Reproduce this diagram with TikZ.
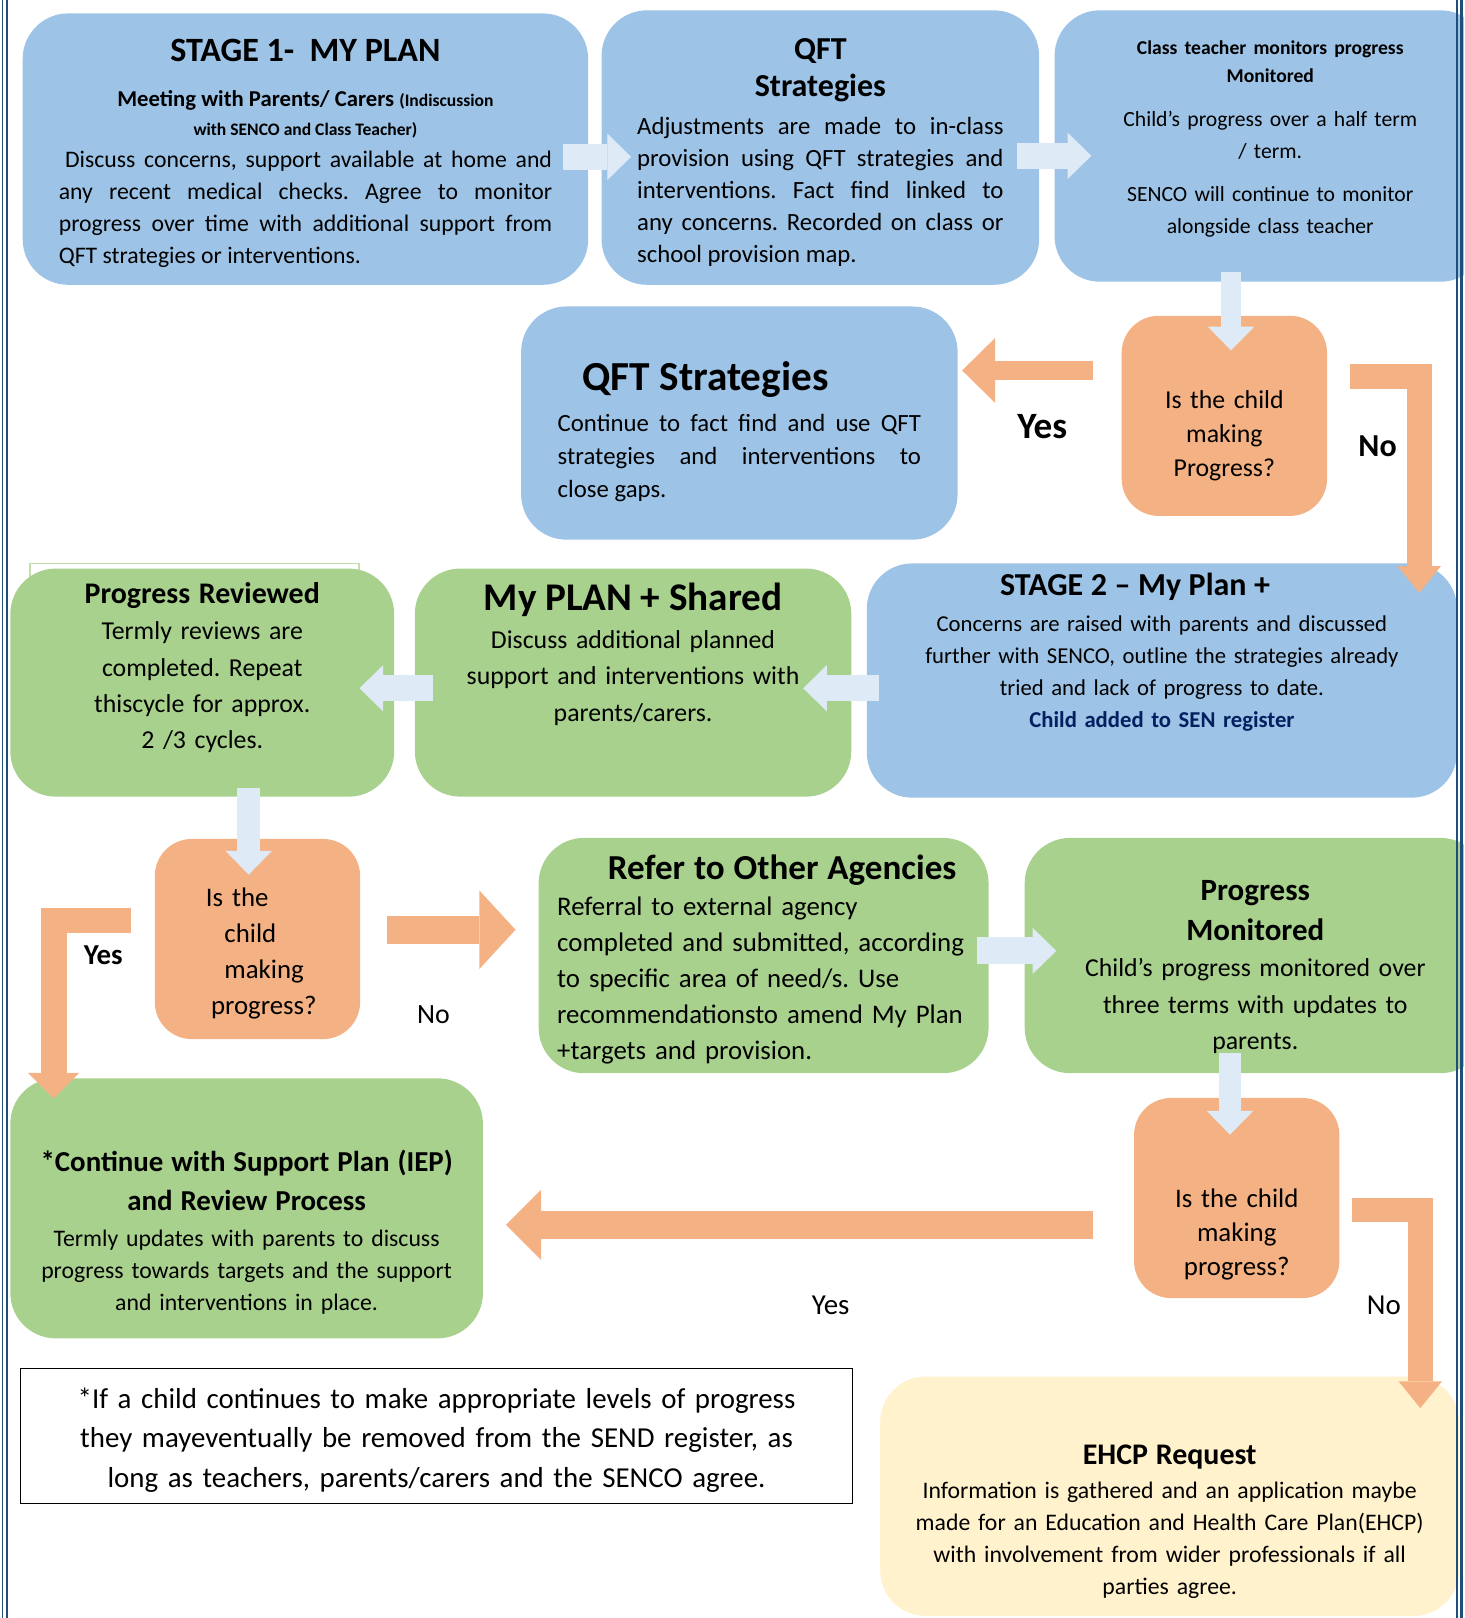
\documentclass[tikz,border=0pt]{standalone}
\usepackage{fontspec}
\setmainfont{Carlito}
\usetikzlibrary{arrows.meta,calc}
\setlength{\parindent}{0pt}
\frenchspacing

\definecolor{bleu}{HTML}{9DC3E6}
\definecolor{vert}{HTML}{A9D18E}
\definecolor{saumon}{HTML}{F4B183}
\definecolor{creme}{HTML}{FFF2CC}
\definecolor{bleuclair}{HTML}{DEEBF7}
\definecolor{marine}{HTML}{002060}
\definecolor{bordure}{HTML}{1F4E79}

% titre centre en gras
\newcommand{\titre}[3]{{\centering\fontsize{#1}{#2}\selectfont\bfseries #3\par}}

\begin{document}
\begin{tikzpicture}[x=0.5pt,y=-0.5pt]
        % Styles des cadres et des flèches
        \tikzstyle{boite} = [rounded corners=22pt, inner sep=0pt, align=center]
        \tikzstyle{bleue} = [boite, fill=bleu]
        \tikzstyle{verte} = [boite, fill=vert]
        \tikzstyle{question} = [rounded corners=18pt, fill=saumon, inner sep=0pt, minimum width=99.5pt, minimum height=97pt, text width=90pt, align=center]
        \tikzstyle{fleche} = [bleuclair, line width=12.5pt, -{Triangle[width=22.5pt,length=11.5pt,line width=0pt]}]
        \tikzstyle{flecheo} = [saumon, line width=13.5pt, -{Triangle[width=34pt,length=17pt,line width=0pt]}]
        \tikzstyle{coude} = [saumon, line width=12pt, line join=miter, -{Triangle[width=21pt,length=13pt,line width=0pt]}]

        \useasboundingbox (0,0) rectangle (1419,1568);

        % Ligne 1
        \node[bleue, minimum width=274pt, minimum height=131.5pt, text width=239pt, align=justify, font=\fontsize{11.5}{15.5}\selectfont] (etape1) at (296,144.5) {
            \titre{16.5}{20}{STAGE 1-\ \ MY PLAN}\vspace{11pt}
            {\centering\fontsize{11}{14}\selectfont\bfseries Meeting with Parents/ Carers {\fontsize{8.5}{11}\selectfont (Indiscussion\\ with SENCO and Class Teacher)}\par}
            \hspace*{3pt}Discuss concerns, support available at home and\linebreak any recent medical checks. Agree to monitor\linebreak progress over time with additional support from\linebreak QFT strategies or interventions.\par\kern-4pt};
        \node[bleue, minimum width=212pt, minimum height=133pt, text width=177.5pt, align=justify, font=\fontsize{12}{15.5}\selectfont] (qft) at (795,143) {
            \titre{15.5}{18}{QFT\\ Strategies}\vspace{3pt}
            Adjustments are made to in-class\linebreak provision using QFT strategies and\linebreak interventions. Fact find linked to\linebreak any concerns. Recorded on class or\linebreak school provision map.\par\kern-5pt};
        \node[bleue, minimum width=209pt, minimum height=131.5pt, text width=180pt, font=\fontsize{10.5}{15.5}\selectfont] (suivi) at (1231,141.5) {
            {\bfseries\fontsize{9.5}{13.5}\selectfont Class teacher monitors progress\\ Monitored\par}\vspace{6pt}
            Child’s progress over a half term\\ / term.\par\vspace{5pt}
            SENCO will continue to monitor\\ alongside class teacher\par\kern7pt};

        % Ligne 2
        \node[question, font=\fontsize{12.5}{16.5}\selectfont] (q1) at (1186.5,403) {Is the child\\ making\\ Progress?\par\kern-19pt};
        \node[bleue, minimum width=211.5pt, minimum height=113pt, text width=176pt, align=justify, font=\fontsize{12}{16}\selectfont] (qftbis) at (716.5,410) {
            {\raggedright\hspace*{12pt}\fontsize{20}{24}\selectfont\bfseries QFT Strategies\par}\vspace{4pt}
            Continue to fact find and use QFT\linebreak strategies and interventions to\linebreak close gaps.\par\kern-8pt};

        % Ligne 3
        \node[bleue, minimum width=286pt, minimum height=113.5pt, text width=260pt, font=\fontsize{11}{15.5}\selectfont] (etape2) at (1126,659.5) {
            \titre{15.5}{18}{STAGE 2 – My Plan +\hspace*{26pt}}\vspace{2pt}
            Concerns are raised with parents and discussed\\ further with SENCO, outline the strategies already\\ tried and lack of progress to date.\\
            {\bfseries\color{marine}Child added to SEN register}\par\kern27.5pt};
        \node[verte, minimum width=211.5pt, minimum height=110.5pt, text width=200pt, font=\fontsize{12.5}{17.5}\selectfont] (monplan) at (613.5,661.5) {
            \titre{19}{22}{My PLAN + Shared}\vspace{1pt}
            Discuss additional planned\\ support and interventions with\\ parents/carers.\par\kern27.5pt};
        \draw[vert!70, line width=0.6pt] (29,600) -- (29,546) -- (348,546) -- (348,600);
        \node[verte, minimum width=186pt, minimum height=110.5pt, text width=170pt, font=\fontsize{12.5}{17.5}\selectfont] (revue) at (196,661.5) {
            \titre{14.5}{17.5}{Progress Reviewed}
            Termly reviews are\\ completed. Repeat\\ thiscycle for approx.\\ 2 /3 cycles.\par\kern14.5pt};

        % Ligne 4
        \node[question, text width=60pt, align=left, font=\fontsize{13}{17.5}\selectfont] (q2) at (249.5,910) {\hspace*{5pt}Is the\\ \hspace*{14pt}child\\ \hspace*{14pt}making\\ \hspace*{7.5pt}progress?\par\kern-14pt};
        \node[verte, minimum width=218pt, minimum height=114pt, text width=200pt, align=left, font=\fontsize{13}{17.5}\selectfont] (agences) at (740,926) {
            {\centering\hspace*{18pt}\fontsize{17}{20}\selectfont\bfseries Refer to Other Agencies\par}
            Referral to external agency\\ completed and submitted, according\\ to specific area of need/s. Use\\ recommendationsto amend My Plan\\ +targets and provision.\par\kern-4pt};
        \node[verte, minimum width=223.5pt, minimum height=114pt, text width=200pt, font=\fontsize{12.5}{17.5}\selectfont] (progres) at (1216.5,926) {
            \titre{15}{19.5}{Progress\\ Monitored}
            Child’s progress monitored over\\ three terms with updates to\\ parents.\par\kern-11pt};

        % Ligne 5
        \node[question, font=\fontsize{13}{16.5}\selectfont] (q3) at (1198.5,1161) {Is the child\\ making\\ progress?\par\kern-37pt};
        \node[verte, minimum width=229pt, minimum height=126pt, text width=215pt, font=\fontsize{11.5}{15.5}\selectfont] (poursuite) at (239,1171) {
            \titre{14}{19}{*Continue with Support Plan (IEP)\\ and Review Process}\vspace{2pt}
            Termly updates with parents to discuss\\ progress towards targets and the support\\ and interventions in place.\par\kern-23pt};
        \node[draw=black, line width=0.6pt, inner sep=0pt, minimum width=403pt, minimum height=65.5pt, text width=380pt, align=center, font=\fontsize{14}{19}\selectfont] (note) at (423,1391.5) {*If a child continues to make appropriate levels of progress\\ they mayeventually be removed from the SEND register, as\\ long as teachers, parents/carers and the SENCO agree.\par\kern-4pt};
        \node[boite, fill=creme, minimum width=280.5pt, minimum height=116pt, text width=270pt, font=\fontsize{11.5}{15.5}\selectfont] (ehcp) at (1133.5,1450) {
            \titre{14.5}{17}{EHCP Request}\vspace{1pt}
            Information is gathered and an application maybe\\ made for an Education and Health Care Plan(EHCP)\\ with involvement from wider professionals if all\\ parties agree.\par\kern-25pt};

        % Flèches bleu clair
        \draw[fleche] ($(etape1.east)+(-25,7.5)$) -- ($(qft.west)+(29,9)$);
        \draw[fleche] ($(qft.east)+(-22,8)$) -- ($(suivi.west)+(36,9.5)$);
        \draw[fleche, line width=10pt] ($(suivi.south)+(-38,-10)$) -- ($(q1.north)+(6.5,34)$);
        \draw[fleche] ($(etape2.west)+(12,7.5)$) -- ($(monplan.east)+(-47,5.5)$);
        \draw[fleche] ($(monplan.west)+(18,5.5)$) -- ($(revue.east)+(-34,5.5)$);
        \draw[fleche, line width=11pt] ($(revue.south)+(45,-9)$) -- ($(q2.north)+(-8.5,35)$);
        \draw[fleche, line width=13pt] ($(agences.east)+(-12,-4.5)$) -- ($(progres.west)+(31,-4.5)$);
        \draw[fleche, line width=11pt] ($(progres.south)+(-24.5,-20)$) -- ($(q3.north)+(-6.5,36)$);

        % Flèches orange (oui / non)
        \draw[flecheo, line width=9.5pt, -{Triangle[width=31.5pt,length=16pt,line width=0pt]}] ($(q1.west)+(-27,-44)$) -- ($(qftbis.east)+(4,-51)$);
        \draw[coude] ($(q1.east)+(22,-38)$) -| ($(etape2.north east)+(-37,29)$);
        \draw[flecheo, -{Triangle[width=38pt,length=17.5pt,line width=0pt]}] ($(q2.east)+(26,-9)$) -- ($(agences.west)+(-22,-25)$);
        \draw[coude, line width=12.5pt, -{Triangle[width=25pt,length=12.5pt,line width=0pt]}] ($(q2.west)+(-23,-18)$) -| ($(poursuite.north)+(-187,20)$);
        \draw[flecheo] ($(q3.west)+(-39,26)$) -- ($(poursuite.east)+(22,16)$);
        \draw[coude] ($(q3.east)+(12,11.5)$) -| ($(ehcp.north east)+(-38,31)$);

        % Etiquettes oui / non
        \node[font=\fontsize{18}{20}\selectfont\bfseries] (oui1) at (1010,413) {Yes};
        \node[font=\fontsize{15.5}{18}\selectfont\bfseries] (non1) at (1335,432) {No};
        \node[font=\fontsize{14}{16}\selectfont\bfseries] (oui2) at (100,926) {Yes};
        \node[font=\fontsize{13.5}{16}\selectfont] (non2) at (420,983) {No};
        \node[font=\fontsize{14}{16}\selectfont] (oui3) at (805,1265) {Yes};
        \node[font=\fontsize{14}{16}\selectfont] (non3) at (1341,1265) {No};

        % Bordure de page
        \fill[white] (1419,0) rectangle (1440,1568);
        \draw[bordure, line width=0.65pt] (2.4,0) -- (2.4,1568);
        \draw[bordure, line width=1.2pt] (6.8,0) -- (6.8,1568);
        \draw[bordure, line width=0.65pt] (1412,0) -- (1412,1568);
        \draw[bordure, line width=1.2pt] (1416.5,0) -- (1416.5,1568);

\end{tikzpicture}
\end{document}
